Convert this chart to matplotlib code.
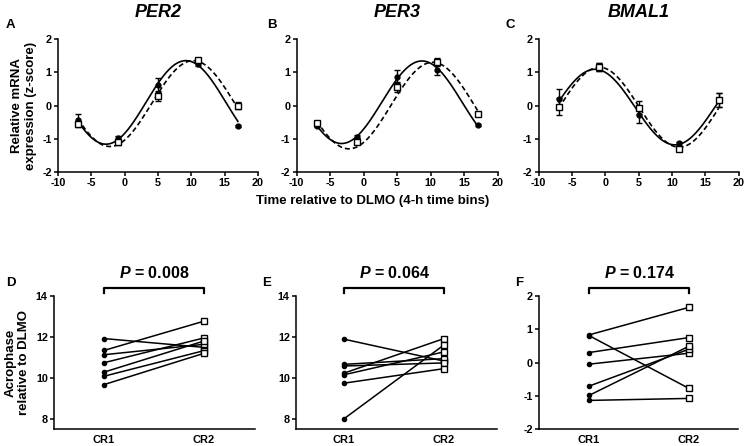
import numpy as np
import matplotlib
matplotlib.use('Agg')
import matplotlib.pyplot as plt

plt.rcParams['font.family'] = ['Liberation Sans', 'DejaVu Sans']
plt.rcParams['font.weight'] = 'bold'
plt.rcParams['axes.unicode_minus'] = False
plt.rcParams['mathtext.fontset'] = 'custom'
plt.rcParams['mathtext.bfit'] = 'Liberation Sans:italic:bold'

# time bins relative to DLMO (h)
time_bins = [-7, -1, 5, 11, 17]
genes = ['PER2', 'PER3', 'BMAL1']
top_letters = ['A', 'B', 'C']
bottom_letters = ['D', 'E', 'F']

# mean z-scores (filled circles = CR1, open squares = CR2) and SEM
cr1_mean = [[-0.43, -0.97, 0.62, 1.25, -0.62],
            [-0.60, -0.93, 0.87, 1.07, -0.58],
            [0.20, 1.15, -0.28, -1.13, 0.17]]
cr1_sem = [[0.17, 0.05, 0.20, 0.07, 0.03],
           [0.05, 0.04, 0.20, 0.15, 0.02],
           [0.29, 0.12, 0.25, 0.05, 0.20]]
cr2_mean = [[-0.55, -1.10, 0.28, 1.38, 0.00],
            [-0.51, -1.10, 0.57, 1.30, -0.26],
            [-0.03, 1.17, -0.06, -1.31, 0.17]]
cr2_sem = [[0.08, 0.07, 0.15, 0.06, 0.10],
           [0.06, 0.04, 0.15, 0.12, 0.05],
           [0.25, 0.12, 0.20, 0.05, 0.20]]

# fitted sine-wave parameters: mesor, amplitude, acrophase (h), period (h)
cr1_fit = [[0.095, 1.255, 9.2, 24.0],
           [0.10, 1.24, 8.7, 24.0],
           [-0.045, 1.135, -1.55, 24.0]]
cr2_fit = [[0.06, 1.29, 10.3, 25.0],
           [0.0, 1.30, 10.3, 25.0],
           [-0.05, 1.20, -0.9, 24.0]]

# individual acrophases relative to DLMO, paired CR1 -> CR2
acro_cr1 = [[11.92, 11.34, 11.13, 10.74, 10.28, 10.08, 9.67],
            [11.89, 10.66, 10.58, 10.23, 10.15, 9.74, 8.00],
            [0.83, 0.81, 0.30, -0.05, -0.71, -0.99, -1.14]]
acro_cr2 = [[11.49, 12.77, 11.64, 11.95, 11.80, 11.33, 11.20],
            [10.82, 10.94, 10.73, 11.92, 11.27, 10.45, 11.61],
            [1.66, -0.78, 0.75, 0.28, 0.40, 0.49, -1.08]]
p_values = ['0.008', '0.064', '0.174']
conditions = ['CR1', 'CR2']

W, H = 746, 446


def sine_fit(t, params):
    mesor, amp, peak, period = params
    return mesor + amp * np.cos(2 * np.pi * (t - peak) / period)


def style_axes(ax):
    for side in ['top', 'right']:
        ax.spines[side].set_visible(False)
    for side in ['left', 'bottom']:
        ax.spines[side].set_linewidth(1.1)
    ax.tick_params(direction='out', length=3, width=1.1, labelsize=7.8, pad=1.5)
    for lab in ax.get_xticklabels() + ax.get_yticklabels():
        lab.set_fontweight('bold')


def px_text(fig, x, y, s, **kw):
    # place text by pixel position from the top-left corner
    fig.text(x / W, 1 - y / H, s, ha='left', va='center', **kw)


fig = plt.figure(figsize=(W / 100, H / 100), dpi=100)

top_lefts = [0.0777, 0.3977, 0.7221]
top_widths = [0.268, 0.2694, 0.268]
top_letter_x = [6, 267, 506]
t_curve = np.linspace(-7, 17, 300)

for i in range(3):
    ax = fig.add_axes([top_lefts[i], 0.614, top_widths[i], 0.2986])
    ax.plot(t_curve, sine_fit(t_curve, cr1_fit[i]), color='black', lw=1.2)
    ax.plot(t_curve, sine_fit(t_curve, cr2_fit[i]), color='black', lw=1.2,
            dashes=(3, 1.8))
    ax.errorbar(time_bins, cr1_mean[i], yerr=cr1_sem[i], fmt='o', color='black',
                ms=3.5, capsize=2, elinewidth=1, capthick=1)
    ax.errorbar(time_bins, cr2_mean[i], yerr=cr2_sem[i], fmt='s', color='black',
                mfc='white', mec='black', ms=4, mew=1, capsize=2,
                elinewidth=1, capthick=1)
    ax.set_xlim(-10, 20)
    ax.set_ylim(-2, 2)
    ax.set_xticks([-10, -5, 0, 5, 10, 15, 20])
    ax.set_yticks([-2, -1, 0, 1, 2])
    style_axes(ax)
    ax.set_title(genes[i], fontsize=13, fontweight='bold', style='italic', pad=16)
    px_text(fig, top_letter_x[i], 25, top_letters[i], fontsize=9.5,
            fontweight='bold')
    if i == 0:
        ax.set_ylabel('Relative mRNA\nexpression (z-score)', fontsize=9.5,
                      fontweight='bold', labelpad=4)

fig.text(0.5, 1 - 201 / H, 'Time relative to DLMO (4-h time bins)', ha='center',
         va='center', fontsize=9.5, fontweight='bold')

bot_lefts = [0.0724, 0.3968, 0.7225]
bot_widths = [0.2694, 0.2694, 0.2668]
bot_xlims = [(-0.5, 1.51), (-0.48, 1.53), (-0.5, 1.49)]
bot_ylims = [(7.5, 14), (7.5, 14), (-2, 2)]
bot_yticks = [[8, 10, 12, 14], [8, 10, 12, 14], [-2, -1, 0, 1, 2]]
bot_letter_x = [6, 262, 515]

for i in range(3):
    ax = fig.add_axes([bot_lefts[i], 0.0381, bot_widths[i], 0.2982])
    for a, b in zip(acro_cr1[i], acro_cr2[i]):
        ax.plot([0, 1], [a, b], color='black', lw=1.1, zorder=1)
    ax.plot([0] * len(acro_cr1[i]), acro_cr1[i], 'o', color='black', ms=3,
            zorder=2)
    ax.plot([1] * len(acro_cr2[i]), acro_cr2[i], 's', mfc='white',
            mec='black', ms=4, mew=1, zorder=3)
    ax.set_xlim(*bot_xlims[i])
    ax.set_ylim(*bot_ylims[i])
    ax.set_yticks(bot_yticks[i])
    ax.set_xticks([0, 1])
    ax.set_xticklabels(conditions)
    style_axes(ax)
    ax.tick_params(axis='x', length=0, labelsize=8, pad=4)
    # significance bracket
    lo, hi = bot_ylims[i]
    yb = hi + (hi - lo) * 0.06
    yt = hi + (hi - lo) * 0.025
    ax.plot([0, 0, 1, 1], [yt, yb, yb, yt], color='black', lw=1.6,
            clip_on=False)
    ax.text(0.5, hi + (hi - lo) * 0.17, r'$\mathbfit{P}$' + ' = ' + p_values[i],
            ha='center', va='center', fontsize=11.5, fontweight='bold')
    px_text(fig, bot_letter_x[i], 283, bottom_letters[i], fontsize=9.5,
            fontweight='bold')
    if i == 0:
        ax.set_ylabel('Acrophase\nrelative to DLMO', fontsize=9.5,
                      fontweight='bold', labelpad=4)

fig.savefig('out.png', dpi=100)
